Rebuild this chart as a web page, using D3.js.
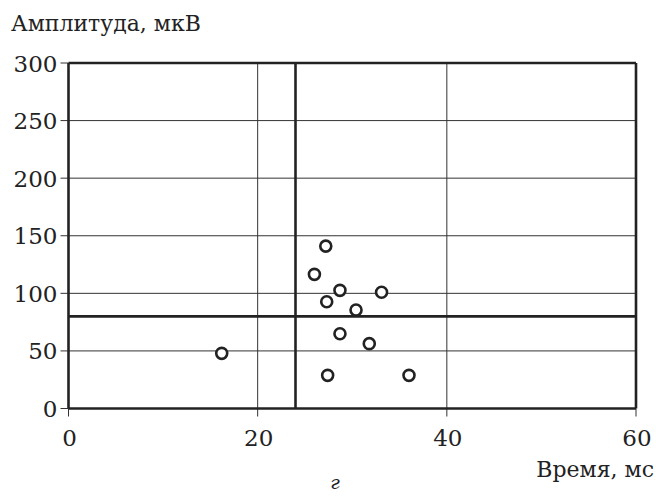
<!DOCTYPE html>
<html lang="ru">
<head>
    <meta charset="UTF-8">
    <title>Амплитуда / Время</title>
    <style>
        body { margin: 0; padding: 0; background: #fff; }
        svg text { font-family: "DejaVu Serif", "Liberation Serif", serif; fill: #222; }
        .tick-label { font-size: 23px; }
        .axis-title { font-size: 22px; }
        .grid line { stroke: #333; stroke-width: 1; }
        .frame line { stroke: #222; stroke-width: 2.6; }
        .dot { fill: #fff; stroke: #222; stroke-width: 2.6; }
    </style>
</head>
<body>
<div id="chart"></div>
<script src="https://d3js.org/d3.v7.min.js"></script>
<script>
    // data
    const timeMs = [27.2, 26.0, 28.7, 27.3, 33.1, 30.4, 28.7, 31.8, 16.2, 27.4, 36.0];
    const amplitude = [141, 116.5, 102.6, 92.7, 100.9, 85.5, 64.9, 56.3, 47.9, 28.8, 28.8];
    const xTicks = [0, 20, 40, 60];
    const yTicks = [0, 50, 100, 150, 200, 250, 300];
    const thresholdTime = 24;
    const thresholdAmp = 80;

    const width = 656, height = 496;
    const margin = { top: 63, right: 20, bottom: 87.5, left: 68.5 };
    const innerW = width - margin.left - margin.right;
    const innerH = height - margin.top - margin.bottom;

    const svg = d3.select("#chart").append("svg")
        .attr("width", width)
        .attr("height", height);

    const g = svg.append("g")
        .attr("transform", "translate(" + margin.left + "," + margin.top + ")");

    const x = d3.scaleLinear().domain([0, 60]).range([0, innerW]);
    const y = d3.scaleLinear().domain([0, 300]).range([innerH, 0]);

    // thin grid
    const grid = g.append("g").attr("class", "grid");
    grid.selectAll(".gx")
        .data(xTicks.filter(d => d > 0 && d < 60))
        .enter().append("line")
        .attr("x1", d => x(d)).attr("x2", d => x(d))
        .attr("y1", 0).attr("y2", innerH + 8);
    grid.selectAll(".gy")
        .data(yTicks.filter(d => d > 0 && d < 300))
        .enter().append("line")
        .attr("x1", -8).attr("x2", innerW)
        .attr("y1", d => y(d)).attr("y2", d => y(d));
    // outward ticks on frame edges
    grid.selectAll(".tx")
        .data([0, 60])
        .enter().append("line")
        .attr("x1", d => x(d)).attr("x2", d => x(d))
        .attr("y1", innerH).attr("y2", innerH + 8);
    grid.selectAll(".ty")
        .data([0, 300])
        .enter().append("line")
        .attr("x1", -8).attr("x2", 0)
        .attr("y1", d => y(d)).attr("y2", d => y(d));

    // frame and threshold lines
    const frame = g.append("g").attr("class", "frame");
    frame.append("line").attr("x1", x(0)).attr("x2", x(60)).attr("y1", y(0)).attr("y2", y(0));
    frame.append("line").attr("x1", x(0)).attr("x2", x(60)).attr("y1", y(300)).attr("y2", y(300));
    frame.append("line").attr("x1", x(0)).attr("x2", x(0)).attr("y1", y(0)).attr("y2", y(300));
    frame.append("line").attr("x1", x(60)).attr("x2", x(60)).attr("y1", y(0)).attr("y2", y(300));
    frame.append("line").attr("x1", x(thresholdTime)).attr("x2", x(thresholdTime)).attr("y1", y(0)).attr("y2", y(300));
    frame.append("line").attr("x1", x(0)).attr("x2", x(60)).attr("y1", y(thresholdAmp)).attr("y2", y(thresholdAmp));

    // tick labels
    g.selectAll(".xl")
        .data(xTicks)
        .enter().append("text")
        .attr("class", "tick-label")
        .attr("x", d => x(d) + 1)
        .attr("y", innerH + 37)
        .attr("text-anchor", "middle")
        .text(d => d);
    g.selectAll(".yl")
        .data(yTicks)
        .enter().append("text")
        .attr("class", "tick-label")
        .attr("x", -11)
        .attr("y", d => y(d) + 8.5)
        .attr("text-anchor", "end")
        .text(d => d);

    // points
    g.selectAll(".dot")
        .data(timeMs.map((t, i) => ({ t: t, a: amplitude[i] })))
        .enter().append("circle")
        .attr("class", "dot")
        .attr("cx", d => x(d.t))
        .attr("cy", d => y(d.a))
        .attr("r", 5.5);

    // titles
    svg.append("text")
        .attr("class", "axis-title")
        .attr("x", 11)
        .attr("y", 31)
        .text("Амплитуда, мкВ");
    svg.append("text")
        .attr("class", "axis-title")
        .attr("x", 654)
        .attr("y", 477)
        .attr("text-anchor", "end")
        .text("Время, мс");
    svg.append("text")
        .attr("x", 335)
        .attr("y", 489)
        .attr("text-anchor", "middle")
        .style("font-size", "19px")
        .style("font-style", "italic")
        .text("г");
</script>
</body>
</html>
